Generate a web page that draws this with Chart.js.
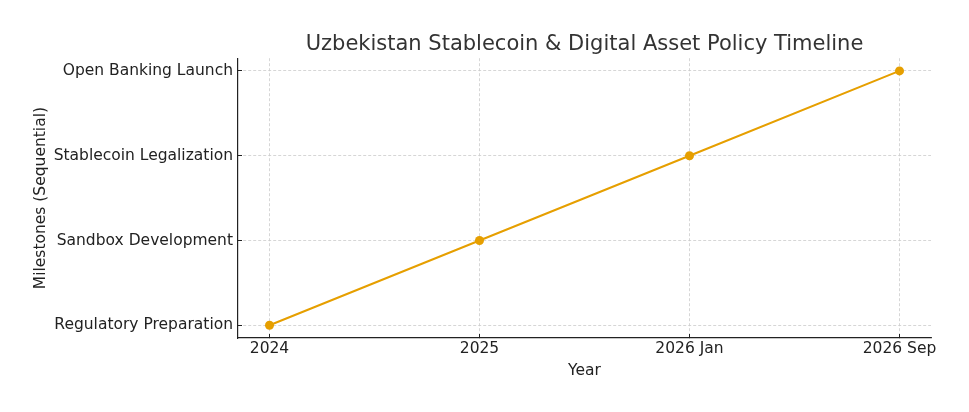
<!DOCTYPE html>
<html>
<head>
<meta charset="utf-8">
<script src="https://cdn.jsdelivr.net/npm/chart.js@4"></script>
<style>
  html, body { margin: 0; padding: 0; background: #fff; }
  #wrap { width: 969px; height: 412px; }
</style>
</head>
<body>
<div id="wrap"><canvas id="timeline" width="969" height="412"></canvas></div>
<script>
/* policy timeline — one line through ordered milestones */

const periods = ["2024", "2025", "2026 Jan", "2026 Sep"];
const milestones = ["Regulatory Preparation", "Sandbox Development", "Stablecoin Legalization", "Open Banking Launch"];
const stepIndex = [0, 1, 2, 3];
const milestoneIndex = [0, 1, 2, 3];

const lineColor = "#E69F00";
const gridColor = "#cccccc";
const axisColor = "#222222";

Chart.defaults.font.family = "'DejaVu Sans', sans-serif";
Chart.defaults.color = "#222";

// center the title over the plot area rather than the canvas
const titleOverArea = {
  id: "titleOverArea",
  afterLayout(chart) {
    if (chart.titleBlock) {
      chart.titleBlock.left = chart.chartArea.left;
      chart.titleBlock.right = chart.chartArea.right;
    }
  }
};

new Chart(document.getElementById("timeline"), {
  type: "line",
  data: {
    datasets: [{
      data: stepIndex.map((x, i) => ({ x: x, y: milestoneIndex[i] })),
      borderColor: lineColor,
      backgroundColor: lineColor,
      borderWidth: 2,
      pointRadius: 4.5,
      pointBorderWidth: 0,
      tension: 0
    }]
  },
  options: {
    responsive: false,
    animation: false,
    layout: { padding: { left: 0, right: 38, top: 0, bottom: 0 } },
    plugins: {
      legend: { display: false },
      tooltip: { enabled: false },
      title: {
        display: true,
        text: "Uzbekistan Stablecoin & Digital Asset Policy Timeline",
        color: "#333",
        font: { size: 21, weight: "normal" },
        padding: { top: 32, bottom: 1 }
      }
    },
    scales: {
      x: {
        type: "linear",
        min: -0.15,
        max: 3.15,
        afterBuildTicks: s => { s.ticks = stepIndex.map(v => ({ value: v })); },
        afterFit: s => { s.height = 74; },
        ticks: {
          callback: v => periods[v],
          font: { size: 15.5 },
          color: "#222",
          padding: 6,
          maxRotation: 0
        },
        grid: {
          color: gridColor,
          lineWidth: 0.8,
          tickColor: axisColor,
          tickLength: -4,
          tickWidth: 1
        },
        border: { display: true, color: axisColor, width: 1.2, dash: [3, 2] },
        title: {
          display: true,
          text: "Year",
          font: { size: 15.5 },
          color: "#222",
          padding: { top: 0, bottom: 32 }
        }
      },
      y: {
        type: "linear",
        min: -0.15,
        max: 3.15,
        afterBuildTicks: s => { s.ticks = milestoneIndex.map(v => ({ value: v })); },
        afterFit: s => { s.width = 238; },
        ticks: {
          callback: v => milestones[v],
          font: { size: 15.5 },
          color: "#222",
          padding: 9
        },
        grid: {
          color: gridColor,
          lineWidth: 0.8,
          tickColor: axisColor,
          tickLength: -4,
          tickWidth: 1
        },
        border: { display: true, color: axisColor, width: 1.2, dash: [3, 2] },
        title: {
          display: true,
          text: "Milestones (Sequential)",
          font: { size: 15.5 },
          color: "#222",
          padding: { top: 32, bottom: 0 }
        }
      }
    }
  },
  plugins: [titleOverArea]
});
</script>
</body>
</html>
